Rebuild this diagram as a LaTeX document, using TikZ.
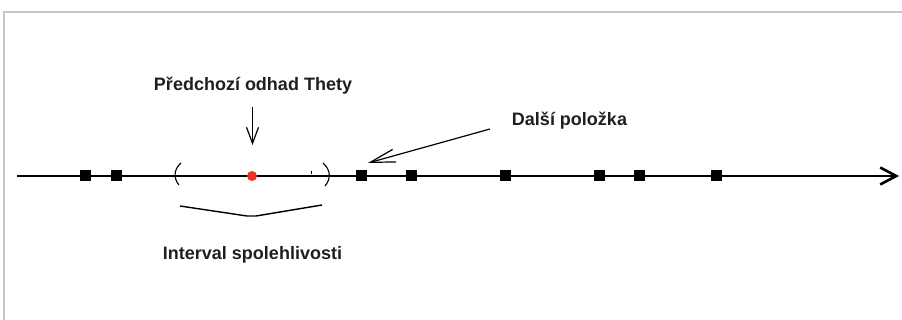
\documentclass[tikz,border=0pt]{standalone}
\usepackage{fontspec}
\setmainfont{Liberation Sans}
\usetikzlibrary{arrows.meta,positioning}

\definecolor{odhadred}{RGB}{236,52,36}

\begin{document}
\begin{tikzpicture}[x=1pt,y=-1pt,
    item/.style={fill=black, minimum size=11pt, inner sep=0pt},
    lbl/.style={font=\fontsize{18}{22}\selectfont\bfseries, text=black!88, anchor=base, inner sep=0pt},
    pointer/.style={line width=1.2pt}]
    \useasboundingbox (0,0) rectangle (902,320);

    % frame
    \draw[gray!45, line width=1.5pt] (4,320) -- (4,12) -- (902,12);

    % axis
    \coordinate (axstart) at (17,176);
    \coordinate (axend) at (899,176);
    \draw[line width=2.6pt, -{Straight Barb[length=16pt,width=17pt]}] (axstart) -- (axend);

    % items on the scale
    \foreach \x [count=\i] in {85,116,361,411,505,599,639,716}
        \node[item] (p\i) at (\x,176) {};

    % previous estimate
    \node[circle, fill=odhadred, minimum size=10pt, inner sep=0pt] (theta) at (252,176) {};
    \node[lbl] (odhad) at (253,91) {Předchozí odhad Thety};
    \coordinate (odhadtop) at (252.5,107);
    \coordinate (odhadtip) at (252.5,145);
    \draw[pointer, -{Straight Barb[length=16pt,width=12pt]}] (odhadtop) -- (odhadtip);

    % confidence interval
    \draw[line width=1.1pt] (181,163) .. controls (174,169) and (173,178) .. (179,185);
    \draw[line width=1.1pt] (323,163) .. controls (331,170) and (331,179) .. (325,186);
    \draw[line width=1pt] (311,171) -- (311,174);
    \draw[line width=1.4pt] (180,206) -- (247,216) -- (256,216) -- (322,205);
    \node[lbl] (interval) at (252.5,260) {Interval spolehlivosti};

    % next item
    \node[lbl] (dalsi) at (569.5,126) {Další položka};
    \coordinate (dalsistart) at (490,129);
    \coordinate (dalsitip) at (368,163);
    \draw[pointer, -{Straight Barb[length=25pt,width=13pt]}] (dalsistart) -- (dalsitip);
\end{tikzpicture}
\end{document}
